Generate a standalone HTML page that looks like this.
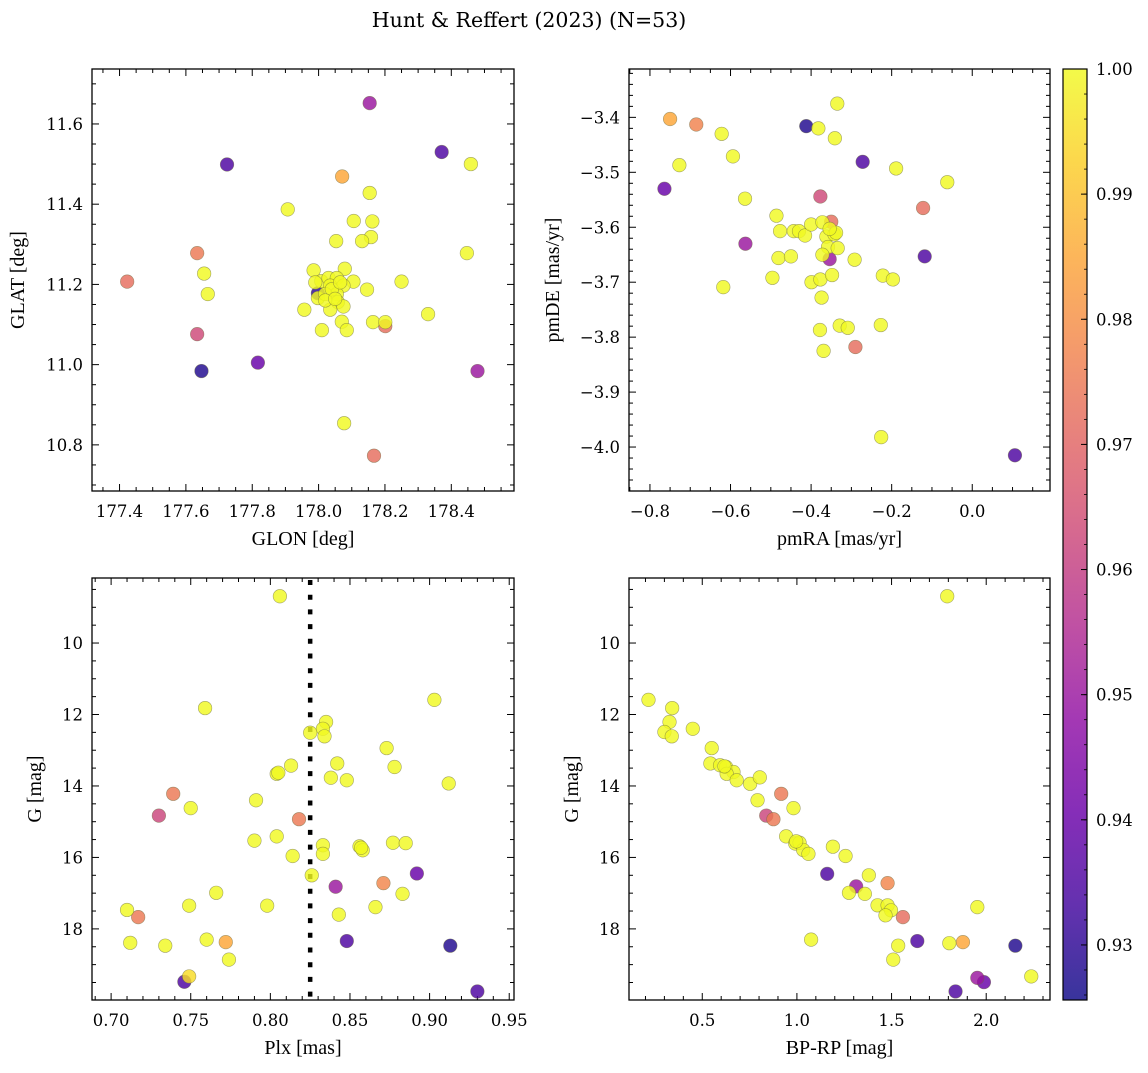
<!DOCTYPE html>
<html><head><meta charset="utf-8"><style>
body{margin:0;background:#fff}
svg text{fill:#000}
.tk{font-family:"DejaVu Serif","Liberation Serif",serif;font-size:16.5px}
.al{font-family:"Liberation Serif","DejaVu Serif",serif;font-size:20px}
</style></head><body>
<svg id="fig" width="1148" height="1068" viewBox="0 0 1148 1068" xmlns="http://www.w3.org/2000/svg">
<rect width="1148" height="1068" fill="#fff"/>
<text x="529" y="27" text-anchor="middle" style="font-family:'DejaVu Serif',serif;font-size:20.5px">Hunt &amp; Reffert (2023) (N=53)</text>
</svg>
<script>
// ---- Panel 1: GLON / GLAT ----
const glon=[178.154,177.724,178.371,178.459,178.071,178.154,177.907,178.106,178.162,178.158,178.131,178.053,178.447,177.634,177.655,177.423,177.666,178.250,
177.985,178.079,178.008,178.030,178.055,178.105,178.035,178.075,178.146,177.998,177.998,178.055,178.020,178.058,178.075,178.035,177.957,178.070,178.010,178.085,178.164,178.201,178.201,178.330,178.077,178.167,177.634,177.647,177.817,178.479,177.990,178.040,178.065,178.020,178.050];
const glat=[11.652,11.499,11.530,11.500,11.469,11.428,11.387,11.358,11.357,11.318,11.308,11.308,11.278,11.278,11.227,11.207,11.176,11.207,
11.235,11.239,11.208,11.216,11.216,11.207,11.197,11.197,11.187,11.166,11.178,11.176,11.176,11.156,11.145,11.137,11.137,11.107,11.086,11.086,11.106,11.106,11.096,11.126,10.854,10.773,11.076,10.984,11.005,10.984,11.205,11.188,11.205,11.160,11.164];
const prob1=[0.950,0.935,0.935,1,0.985,1,1,1,1,1,1,1,1,0.975,1,0.972,1,1,
1,1,1,1,1,1,1,1,1,1,0.930,1,1,1,1,1,1,1,1,1,1,1,0.972,1,1,0.972,0.963,0.928,0.940,0.950,1,1,1,1,1];
// ---- Panel 2: pmRA / pmDE ----
const pmra=[-0.335,-0.750,-0.685,-0.412,-0.382,-0.622,-0.341,-0.594,-0.727,-0.272,-0.189,-0.764,-0.062,-0.564,-0.377,-0.122,-0.486,-0.350,
-0.477,-0.443,-0.430,-0.415,-0.400,-0.372,-0.362,-0.342,-0.338,-0.358,-0.334,-0.372,-0.354,-0.292,-0.563,-0.481,-0.450,-0.118,-0.496,-0.399,-0.377,-0.348,-0.222,-0.197,-0.618,-0.374,-0.378,-0.329,-0.309,-0.227,-0.369,-0.290,-0.226,0.106,-0.354];
const pmde=[-3.375,-3.403,-3.413,-3.416,-3.420,-3.430,-3.438,-3.471,-3.487,-3.481,-3.493,-3.530,-3.518,-3.548,-3.544,-3.565,-3.579,-3.590,
-3.607,-3.607,-3.607,-3.615,-3.595,-3.591,-3.617,-3.613,-3.610,-3.636,-3.638,-3.650,-3.658,-3.659,-3.630,-3.656,-3.653,-3.653,-3.692,-3.700,-3.695,-3.687,-3.688,-3.695,-3.709,-3.728,-3.787,-3.779,-3.783,-3.778,-3.825,-3.818,-3.982,-4.015,-3.603];
const prob2=[1,0.985,0.977,0.928,1,1,1,1,1,0.935,1,0.940,1,1,0.963,0.972,1,0.972,
1,1,1,1,1,1,1,1,1,1,1,1,0.950,1,0.950,1,1,0.935,1,1,1,1,1,1,1,1,1,1,1,1,1,0.972,1,0.935,1];
// ---- Panel 3: Plx / G ----
const plx=[0.806,0.903,0.759,0.835,0.833,0.825,0.834,0.873,0.878,0.842,0.813,0.804,0.838,0.848,0.912,0.739,0.750,0.791,0.730,0.818,0.804,0.790,0.814,0.833,0.833,0.856,0.858,0.877,0.885,0.826,0.892,0.841,0.871,0.883,0.766,0.749,0.798,0.866,0.843,0.710,0.717,0.712,0.734,0.760,0.772,0.774,0.848,0.913,0.746,0.749,0.930,0.805,0.857];
const g3=[8.69,11.59,11.82,12.21,12.40,12.51,12.61,12.94,13.47,13.37,13.43,13.66,13.77,13.84,13.93,14.22,14.62,14.40,14.83,14.93,15.41,15.53,15.96,15.66,15.90,15.69,15.80,15.59,15.60,16.50,16.45,16.82,16.72,17.02,16.99,17.35,17.35,17.39,17.60,17.47,17.67,18.39,18.47,18.30,18.37,18.86,18.34,18.47,19.48,19.33,19.75,13.63,15.73];
const prob3=[1,1,1,1,1,1,1,1,1,1,1,1,1,1,1,0.975,1,1,0.962,0.975,1,1,1,1,1,1,1,1,1,1,0.940,0.950,0.978,1,1,1,1,1,1,1,0.975,1,1,1,0.985,1,0.935,0.928,0.935,0.995,0.935,1,1];
// ---- Panel 4: BP-RP / G ----
const bprp=[1.794,0.216,0.341,0.327,0.300,0.339,0.450,0.550,0.543,0.594,0.626,0.665,0.629,0.682,0.753,0.804,0.917,0.792,0.982,0.838,0.876,0.943,0.991,1.014,1.033,1.061,1.190,1.257,1.160,1.380,1.313,1.275,1.359,1.479,1.426,1.479,1.497,1.468,1.560,1.953,1.075,1.535,1.636,1.805,1.877,1.509,2.154,1.953,1.988,1.838,2.238,0.996,0.617];
const g4=[8.69,11.59,11.82,12.21,12.49,12.61,12.40,12.94,13.37,13.42,13.47,13.61,13.66,13.84,13.94,13.76,14.22,14.40,14.62,14.83,14.93,15.41,15.61,15.59,15.79,15.90,15.70,15.96,16.46,16.50,16.81,16.99,17.02,16.72,17.34,17.34,17.48,17.62,17.67,17.39,18.30,18.47,18.34,18.40,18.37,18.86,18.47,19.37,19.49,19.75,19.33,15.55,13.45];
const prob4=[1,1,1,1,1,1,1,1,1,1,1,1,1,1,1,1,0.975,1,1,0.962,0.975,1,1,1,1,1,1,1,0.935,1,0.950,1,1,0.978,1,1,1,1,0.972,1,1,1,0.935,1,0.985,1,0.928,0.950,0.940,0.935,1,1,1];
// ---- Colorbar ----
const cbTicks=[0.93,0.94,0.95,0.96,0.97,0.98,0.99,1.00];
const CMIN=0.9256, CMAX=1.0;

const NS="http://www.w3.org/2000/svg";
const svg=document.getElementById('fig');
function mk(tag,attrs,parent){const e=document.createElementNS(NS,tag);for(const k in attrs)e.setAttribute(k,attrs[k]);(parent||svg).appendChild(e);return e;}
const PL=[[13,8,135],[65,4,157],[106,0,168],[143,13,164],[177,42,144],[204,71,120],[225,100,98],[242,132,75],[252,166,54],[252,206,37],[240,249,33]];
function plasma(v){let t=Math.max(0,Math.min(1,(v-CMIN)/(CMAX-CMIN)))*10;const i=Math.min(9,Math.floor(t)),f=t-i;const a=PL[i],b=PL[i+1];
return 'rgb('+a.map((c,k)=>Math.round(c+(b[k]-c)*f)).join(',')+')';}
function fmt(v,d){return (v<0?'\u2212':'')+Math.abs(v).toFixed(d);}

function panel(o){
  const {x0,x1,y0,y1,xmin,xmax,ymin,ymax,inv,xs,ys,ps,name}=o;
  const sx=v=>x0+(v-xmin)/(xmax-xmin)*(x1-x0);
  const sy=inv?(v=>y0+(v-ymin)/(ymax-ymin)*(y1-y0)):(v=>y1-(v-ymin)/(ymax-ymin)*(y1-y0));
  const g=mk('g',{});
  
  
  function ticksX(step,nminor,dec){
    const s0=Math.ceil((xmin-1e-9)/(step/nminor));
    for(let k=s0;k*(step/nminor)<=xmax+1e-9;k++){
      const v=k*step/nminor, X=sx(v), major=Math.abs(Math.round(v/step)*step-v)<1e-7, L=major?7:4;
      mk('line',{x1:X,y1:y1,x2:X,y2:y1-L,stroke:'#000','stroke-width':1},g);
      mk('line',{x1:X,y1:y0,x2:X,y2:y0+L,stroke:'#000','stroke-width':1},g);
      if(major){const t=mk('text',{x:X,y:y1+26,'text-anchor':'middle',class:'tk'},g);t.textContent=fmt(v,dec);
        
        }
    }
  }
  function ticksY(step,nminor,dec){
    const lo=Math.min(ymin,ymax),hi=Math.max(ymin,ymax);
    const s0=Math.ceil((lo-1e-9)/(step/nminor));
    for(let k=s0;k*(step/nminor)<=hi+1e-9;k++){
      const v=k*step/nminor, Y=sy(v), major=Math.abs(Math.round(v/step)*step-v)<1e-7, L=major?7:4;
      mk('line',{x1:x0,y1:Y,x2:x0+L,y2:Y,stroke:'#000','stroke-width':1},g);
      mk('line',{x1:x1,y1:Y,x2:x1-L,y2:Y,stroke:'#000','stroke-width':1},g);
      if(major){const t=mk('text',{x:x0-9,y:Y+6,'text-anchor':'end',class:'tk'},g);t.textContent=fmt(v,dec);
        
        }
    }
  }
  ticksX(o.xstep,o.xminor,o.xdec);
  ticksY(o.ystep,o.yminor,o.ydec);
  if(o.vline!==undefined){const l=mk('line',{x1:sx(o.vline),x2:sx(o.vline),y1:y0+2,y2:y1,stroke:'#000','stroke-width':4.5,'stroke-dasharray':'5,9.7'},g);
    
    }
  const idx=ps.map((p,i)=>i).sort((a,b)=>ps[a]-ps[b]);
  idx.forEach(i=>{const c=mk('circle',{cx:sx(xs[i]),cy:sy(ys[i]),r:6.8,fill:plasma(ps[i]),'fill-opacity':0.82,stroke:'#6b6b40','stroke-opacity':0.6,'stroke-width':0.6},g);
    
    });
  const fr=mk('rect',{x:x0,y:y0,width:x1-x0,height:y1-y0,fill:'none',stroke:'#000','stroke-width':1.3},g);
  
  
  const xl=mk('text',{x:(x0+x1)/2,y:y1+54,'text-anchor':'middle',class:'al'},g);xl.textContent=o.xlabel;
  
  
  const yx=o.ylx, yy=(y0+y1)/2;
  const yl=mk('text',{x:yx,y:yy,'text-anchor':'middle',class:'al',transform:'rotate(-90 '+yx+' '+yy+')'},g);yl.textContent=o.ylabel;
  
  
}
panel({name:'glon-glat-panel',x0:92,x1:514,y0:69,y1:491,xmin:177.317,xmax:178.589,ymin:10.685,ymax:11.737,xs:glon,ys:glat,ps:prob1,xstep:0.2,xminor:4,xdec:1,ystep:0.2,yminor:4,ydec:1,xlabel:'GLON [deg]',ylabel:'GLAT [deg]',ylx:24});
panel({name:'proper-motion-panel',x0:629,x1:1050,y0:69,y1:491,xmin:-0.852,xmax:0.193,ymin:-4.08,ymax:-3.312,xs:pmra,ys:pmde,ps:prob2,xstep:0.2,xminor:4,xdec:1,ystep:0.1,yminor:5,ydec:1,xlabel:'pmRA [mas/yr]',ylabel:'pmDE [mas/yr]',ylx:559});
panel({name:'parallax-panel',x0:92,x1:514,y0:578,y1:1000,xmin:0.688,xmax:0.953,ymin:8.18,ymax:19.99,inv:true,xs:plx,ys:g3,ps:prob3,xstep:0.05,xminor:5,xdec:2,ystep:2,yminor:4,ydec:0,xlabel:'Plx [mas]',ylabel:'G [mag]',ylx:41,vline:0.825});
panel({name:'cmd-panel',x0:629,x1:1050,y0:578,y1:1000,xmin:0.113,xmax:2.337,ymin:8.18,ymax:19.99,inv:true,xs:bprp,ys:g4,ps:prob4,xstep:0.5,xminor:5,xdec:1,ystep:2,yminor:4,ydec:0,xlabel:'BP-RP [mag]',ylabel:'G [mag]',ylx:578});

// colorbar
(function(){
  const cx0=1063,cx1=1087,cy0=69,cy1=1000;
  const g=mk('g',{});
  
  
  const defs=mk('defs',{},g);
  const lg=mk('linearGradient',{id:'cbg',x1:0,y1:1,x2:0,y2:0},defs);
  for(let i=0;i<=20;i++){const v=CMIN+(CMAX-CMIN)*i/20;mk('stop',{offset:(i/20),'stop-color':plasma(v),'stop-opacity':0.82},lg);}
  mk('rect',{x:cx0,y:cy0,width:cx1-cx0,height:cy1-cy0,fill:'url(#cbg)'},g);
  const sy=v=>cy1-(v-CMIN)/(CMAX-CMIN)*(cy1-cy0);
  for(let k=Math.ceil(CMIN/0.002);k*0.002<=CMAX+1e-9;k++){const v=k*0.002,Y=sy(v);mk('line',{x1:cx1,x2:cx1-3,y1:Y,y2:Y,stroke:'#000','stroke-width':0.8},g);}
  cbTicks.forEach(v=>{const Y=sy(v);mk('line',{x1:cx1,x2:cx1-6,y1:Y,y2:Y,stroke:'#000','stroke-width':1},g);
    const t=mk('text',{x:cx1+9,y:Y+6,class:'tk'},g);t.textContent=v.toFixed(2);
    
    });
  mk('rect',{x:cx0,y:cy0,width:cx1-cx0,height:cy1-cy0,fill:'none',stroke:'#000','stroke-width':1.2},g);
})();
</script>
</body></html>
